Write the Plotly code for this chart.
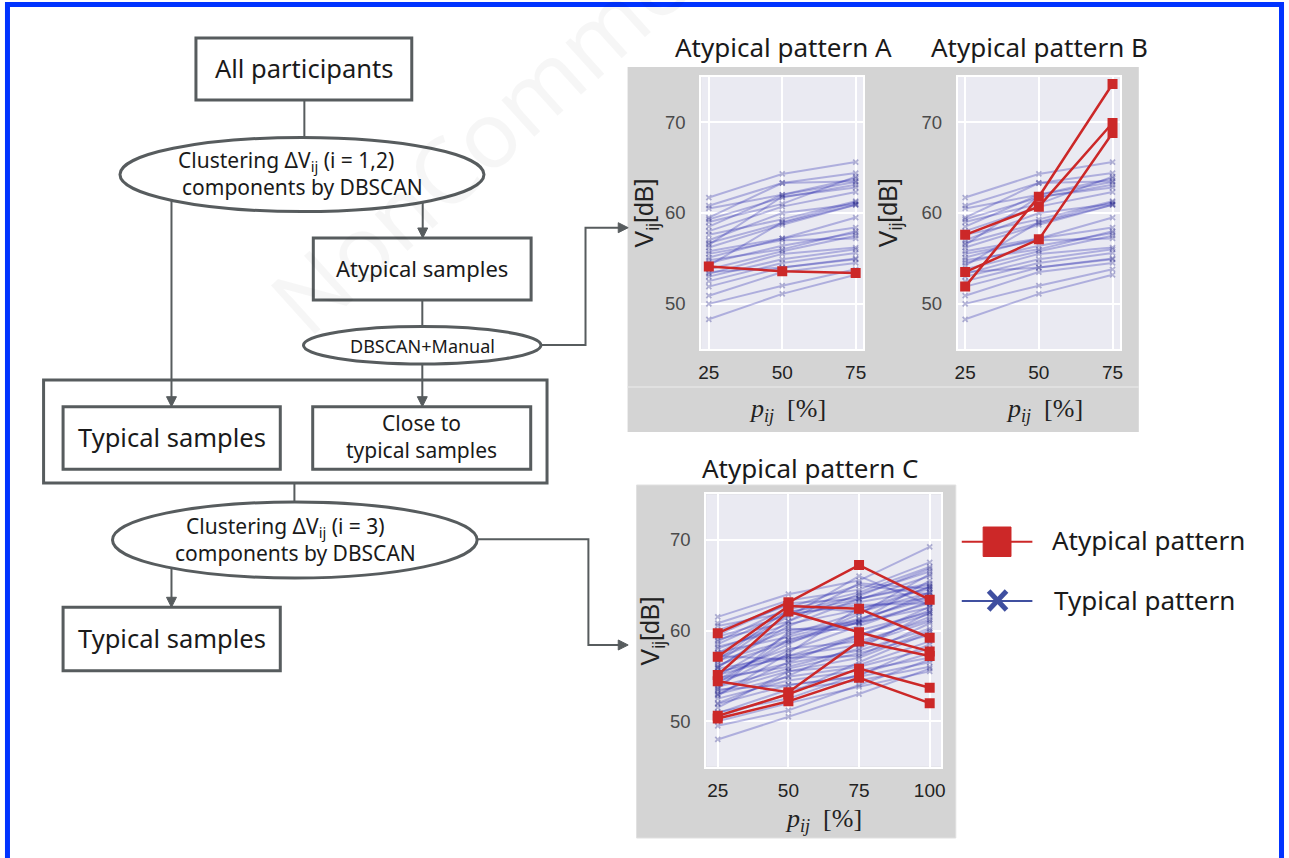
import plotly.graph_objects as go

W, H = 1289, 858
def X(px): return px / W
def Y(py): return 1 - py / H

# ---------------- data ----------------
p_ab = [25, 50, 75]
p_c = [25, 50, 75, 100]

# typical samples (patterns A and B share the same set)
typ_ab_25 = [61.7, 60.8, 60.5, 59.5, 59.3, 58.5, 58.0, 57.6, 56.7, 56.5, 56.2, 55.8, 55.1, 54.5,
             54.2, 53.8, 53.3, 53.0, 52.5, 51.9, 50.9, 50.0, 48.3, 55.5, 57.0, 54.8, 53.5, 59.0]
typ_ab_50 = [64.3, 63.3, 62.0, 63.3, 61.7, 62.0, 60.7, 59.3, 58.9, 61.8, 58.7, 57.2, 57.2, 56.4,
             59.0, 55.8, 55.5, 54.9, 54.5, 54.0, 53.5, 52.0, 51.1, 57.0, 60.0, 56.0, 54.0, 61.0]
typ_ab_75 = [65.6, 64.4, 63.8, 63.5, 63.1, 63.4, 62.3, 61.3, 60.9, 62.8, 60.9, 59.5, 58.4, 57.8,
             61.2, 57.5, 56.2, 56.0, 55.6, 54.9, 54.5, 53.8, 53.2, 57.2, 61.0, 58.0, 55.0, 64.0]

atyp_a = [[54.1, 53.6, 53.4]]
atyp_b = [[51.9, 61.8, 74.2],
          [57.6, 60.7, 69.9],
          [53.5, 57.1, 68.8]]

# typical samples for pattern C
typ_c_25 = [61.5, 60.8, 60.5, 59.5, 59.3, 58.5, 58.0, 57.6, 56.7, 56.5, 56.2, 55.8, 55.1, 54.5, 54.2, 53.8,
            53.3, 53.0, 52.5, 51.9, 50.9, 50.0, 48.0, 55.5, 57.0, 54.8, 53.5, 59.0, 58.8, 57.5, 56.0, 55.0,
            54.0, 53.0, 52.0, 51.5, 50.5, 52.8, 55.3, 58.2, 56.8, 54.6, 51.0, 60.0, 53.6, 57.2, 49.5, 55.9]
typ_c_50 = [64.0, 63.3, 62.0, 63.0, 61.7, 62.0, 60.7, 59.3, 58.9, 61.8, 58.7, 57.2, 57.2, 56.4, 59.0, 55.8,
            55.5, 54.9, 54.5, 54.0, 53.5, 52.0, 50.5, 57.0, 60.0, 56.0, 54.0, 61.0, 62.5, 61.5, 60.5, 59.5,
            57.8, 56.5, 55.0, 55.5, 53.0, 57.5, 58.0, 60.2, 62.3, 58.5, 52.5, 62.8, 59.8, 56.8, 51.2, 61.0]
typ_c_75 = [65.5, 64.5, 63.8, 63.5, 63.1, 63.4, 62.3, 61.3, 60.9, 62.8, 60.9, 59.5, 58.4, 57.8, 61.2, 57.5,
            56.2, 56.0, 55.6, 54.9, 54.5, 53.8, 53.0, 57.2, 61.0, 58.0, 55.0, 64.0, 65.0, 66.0, 63.5, 62.0,
            60.5, 59.5, 58.5, 57.0, 56.5, 62.5, 58.8, 60.0, 64.2, 61.8, 55.2, 62.0, 60.8, 59.2, 54.0, 65.2]
typ_c_100 = [69.2, 67.5, 66.8, 65.0, 64.5, 66.0, 64.8, 63.5, 64.2, 63.0, 62.5, 61.8, 61.0, 60.2, 63.8, 59.5,
             58.8, 58.0, 57.0, 56.5, 56.0, 55.5, 55.8, 60.8, 65.5, 62.0, 58.5, 66.5, 64.0, 62.8, 65.2, 64.8,
             63.2, 62.2, 61.5, 60.0, 59.8, 63.6, 61.2, 62.0, 67.0, 66.2, 57.5, 64.2, 63.0, 62.6, 56.8, 64.6]

atyp_c = [[59.7, 63.1, 67.2, 63.4],
          [57.1, 62.7, 62.4, 59.2],
          [55.1, 62.1, 59.8, 57.7],
          [54.4, 53.2, 58.8, 57.2],
          [50.6, 53.0, 55.8, 53.7],
          [50.3, 52.2, 54.8, 52.0]]

y_ticks = [50, 60, 70]

# ---------------- styles ----------------
BLUE = '#2c2cb0'
RED = '#cc2828'
EDGE = '#575c5e'
FONT = 'Noto Sans'

fig = go.Figure()

def add_typical(xs, cols, xa, ya):
    for vals in zip(*cols):
        fig.add_trace(go.Scatter(
            x=xs, y=list(vals), mode='lines+markers', xaxis=xa, yaxis=ya,
            line=dict(color=BLUE, width=2),
            marker=dict(symbol='x-thin', size=5, line=dict(width=1.8, color='#1a1a85')),
            opacity=0.31, showlegend=False, hoverinfo='skip'))

def add_atypical(xs, lines, xa, ya):
    for vals in lines:
        fig.add_trace(go.Scatter(
            x=xs, y=vals, mode='lines+markers', xaxis=xa, yaxis=ya,
            line=dict(color=RED, width=2.5),
            marker=dict(symbol='square', size=10, color=RED),
            showlegend=False, hoverinfo='skip'))

add_typical(p_ab, [typ_ab_25, typ_ab_50, typ_ab_75], 'x', 'y')
add_atypical(p_ab, atyp_a, 'x', 'y')
add_typical(p_ab, [typ_ab_25, typ_ab_50, typ_ab_75], 'x2', 'y2')
add_atypical(p_ab, atyp_b, 'x2', 'y2')
add_typical(p_c, [typ_c_25, typ_c_50, typ_c_75, typ_c_100], 'x3', 'y3')
add_atypical(p_c, atyp_c, 'x3', 'y3')

def xax(dom, rng, tv):
    return dict(domain=[X(dom[0]), X(dom[1])], range=rng, tickvals=tv,
                showgrid=True, gridcolor='white', gridwidth=1.6, zeroline=False,
                showline=True, linecolor='white', linewidth=2, mirror=True, ticks='',
                tickfont=dict(family='Liberation Sans', size=19, color='#222'),
                ticklabelstandoff=5, fixedrange=True)

def yax(dom, rng):
    return dict(domain=[Y(dom[1]), Y(dom[0])], range=rng, tickvals=y_ticks,
                showgrid=True, gridcolor='white', gridwidth=1.6, zeroline=False,
                showline=True, linecolor='white', linewidth=2, mirror=True, ticks='',
                tickfont=dict(family='Liberation Sans', size=18.5, color='#4a4a4a'),
                ticklabelstandoff=10, fixedrange=True)

shapes = []
annotations = []

# gray panels and plot backgrounds
shapes.append(dict(type='rect', xref='paper', yref='paper', x0=X(628), x1=X(1142), y0=Y(432), y1=Y(67),
                   fillcolor='#d4d4d4', line=dict(width=0), layer='below'))
shapes.append(dict(type='line', xref='paper', yref='paper', x0=X(628), x1=X(1142), y0=Y(387), y1=Y(387),
                   line=dict(color='#e4e4e4', width=1.5), layer='below'))
shapes.append(dict(type='rect', xref='paper', yref='paper', x0=X(637), x1=X(958), y0=Y(838), y1=Y(485),
                   fillcolor='#d4d4d4', line=dict(color='#e0e0e0', width=1), layer='below'))
for xa, ya in [('x', 'y'), ('x2', 'y2'), ('x3', 'y3')]:
    shapes.append(dict(type='rect', xref=xa + ' domain', yref=ya + ' domain', x0=0, x1=1, y0=0, y1=1,
                       fillcolor='#eaeaf2', line=dict(width=0), layer='below'))

# blue frame
shapes.append(dict(type='rect', xref='paper', yref='paper', x0=X(4.5), x1=X(1285.5), y0=Y(875), y1=Y(4.5),
                   line=dict(color='#0033ff', width=5), fillcolor='rgba(0,0,0,0)'))

# connector lines
def seg(pts, width=2):
    path = 'M ' + ' L '.join(f'{X(a):.5f} {Y(b):.5f}' for a, b in pts)
    shapes.append(dict(type='path', xref='paper', yref='paper', path=path,
                       line=dict(color=EDGE, width=width)))

seg([(303, 100), (303, 150)])
seg([(422, 190), (422, 230)])
seg([(421.6, 300), (421.6, 330)])
seg([(530, 345), (585.7, 345), (585.7, 227.7), (620, 227.7)])
seg([(421.6, 355), (421.6, 399)])
seg([(169.4, 180), (169.4, 399)])
seg([(293, 483), (293, 510)])
seg([(470, 539.3), (588.6, 539.3), (588.6, 645), (620, 645)])
seg([(169.4, 560), (169.4, 600)])

# boxes
def box(x0, y0, x1, y1, fill='white'):
    shapes.append(dict(type='rect', xref='paper', yref='paper', x0=X(x0), x1=X(x1), y0=Y(y1), y1=Y(y0),
                       line=dict(color=EDGE, width=3), fillcolor=fill))

def ell(cx, cy, rx, ry):
    shapes.append(dict(type='circle', xref='paper', yref='paper', x0=X(cx - rx), x1=X(cx + rx),
                       y0=Y(cy + ry), y1=Y(cy - ry), line=dict(color=EDGE, width=3), fillcolor='white'))

box(194, 38, 411, 100)
ell(300.6, 174.5, 183, 37)
box(312, 238, 531, 300)
ell(421.5, 345.3, 119.4, 18.7)
box(40.8, 380, 547, 483, fill='rgba(0,0,0,0)')
box(60.4, 406.7, 278.8, 469.3)
box(311.4, 406.7, 530.6, 469.3)
ell(293.4, 540, 183.3, 38)
box(60.4, 607.3, 278.8, 670.7)

# arrowheads
def head(tx, ty, direction):
    L, Wd = 10, 5
    if direction == 'down':
        pts = [(tx, ty), (tx - Wd, ty - L), (tx + Wd, ty - L)]
    else:
        pts = [(tx, ty), (tx - L, ty - Wd), (tx - L, ty + Wd)]
    path = 'M ' + ' L '.join(f'{X(a):.5f} {Y(b):.5f}' for a, b in pts) + ' Z'
    shapes.append(dict(type='path', xref='paper', yref='paper', path=path,
                       line=dict(color=EDGE, width=1), fillcolor=EDGE))

head(422, 238, 'down')
head(421.6, 406.7, 'down')
head(169.4, 406.7, 'down')
head(169.4, 607.3, 'down')
head(628.6, 227.7, 'right')
head(628.6, 645, 'right')

# legend swatches
shapes.append(dict(type='line', xref='paper', yref='paper', x0=X(964), x1=X(1035), y0=Y(541.7), y1=Y(541.7),
                   line=dict(color=RED, width=2)))
shapes.append(dict(type='rect', xref='paper', yref='paper', x0=X(985.5), x1=X(1013.5), y0=Y(556.5), y1=Y(527),
                   line=dict(color=RED, width=1), fillcolor=RED))
shapes.append(dict(type='line', xref='paper', yref='paper', x0=X(964), x1=X(1035), y0=Y(601), y1=Y(601),
                   line=dict(color='#4050a0', width=2)))
shapes.append(dict(type='line', xref='paper', yref='paper', x0=X(991), x1=X(1009), y0=Y(610), y1=Y(591),
                   line=dict(color='#3f4fa0', width=5)))
shapes.append(dict(type='line', xref='paper', yref='paper', x0=X(991), x1=X(1009), y0=Y(591), y1=Y(610),
                   line=dict(color='#3f4fa0', width=5)))

def txt(x, y, s, size, color='#1a1a1a', family=FONT, xanchor='center', angle=0):
    annotations.append(dict(x=X(x), y=Y(y), xref='paper', yref='paper', text=s, showarrow=False,
                            xanchor=xanchor, yanchor='middle', textangle=angle,
                            font=dict(family=family, size=size, color=color)))

# faint watermark
txt(545, 80, 'NonCommercial', 92, color='rgba(0,0,0,0.035)', angle=-42)

# flowchart texts
txt(303, 68, 'All participants', 25.5)
txt(285, 161, 'Clustering ΔV<sub>ij</sub> (i = 1,2)', 21)
txt(301, 187, 'components by DBSCAN', 21)
txt(421.5, 268, 'Atypical samples', 22)
txt(421.5, 345.5, 'DBSCAN+Manual', 18)
txt(169.6, 437, 'Typical samples', 25.5)
txt(421, 422.5, 'Close to', 21)
txt(421, 449.5, 'typical samples', 21)
txt(284, 527, 'Clustering ΔV<sub>ij</sub> (i = 3)', 21)
txt(294, 553, 'components by DBSCAN', 21)
txt(169.6, 638, 'Typical samples', 25.5)

# chart titles
txt(785, 47, 'Atypical pattern A', 26)
txt(1042, 47, 'Atypical pattern B', 26)
txt(812, 468, 'Atypical pattern C', 26)

# axis titles
ylab = 'V<sub>ij</sub>[dB]'
txt(647, 213, ylab, 25, color='#222', family='Liberation Sans', angle=-90)
txt(892, 213, ylab, 25, color='#222', family='Liberation Sans', angle=-90)
txt(653, 631, ylab, 25, color='#222', family='Liberation Sans', angle=-90)
xlab = '<i>p<sub>ij</sub></i>  [%]'
txt(789, 410, xlab, 26, color='#222', family='Liberation Serif')
txt(1047, 410, xlab, 26, color='#222', family='Liberation Serif')
txt(825, 820, xlab, 26, color='#222', family='Liberation Serif')

# legend texts
txt(1053, 540, 'Atypical pattern', 26, xanchor='left')
txt(1055, 600, 'Typical pattern', 26, xanchor='left')

fig.update_layout(
    width=W, height=H, margin=dict(l=0, r=0, t=0, b=0),
    paper_bgcolor='white', plot_bgcolor='rgba(0,0,0,0)', showlegend=False,
    xaxis=xax((702, 865), [22.4, 77.6], p_ab), yaxis=yax((76.7, 349.3), [45, 75]),
    xaxis2=xax((960, 1123.3), [22.5, 77.6], p_ab), yaxis2=yax((76.7, 349.3), [45, 75]),
    xaxis3=xax((707, 943.4), [20.9, 104.1], p_c), yaxis3=yax((494.3, 766.7), [45, 75]),
    shapes=shapes, annotations=annotations,
)
fig.update_layout(xaxis=dict(anchor='y'), yaxis=dict(anchor='x'),
                  xaxis2=dict(anchor='y2'), yaxis2=dict(anchor='x2'),
                  xaxis3=dict(anchor='y3'), yaxis3=dict(anchor='x3'))

fig.write_html('out.html', config={'displayModeBar': False},
               post_script="document.body.style.margin='0';document.body.style.padding='0';"
                           "document.documentElement.style.overflow='hidden';")
